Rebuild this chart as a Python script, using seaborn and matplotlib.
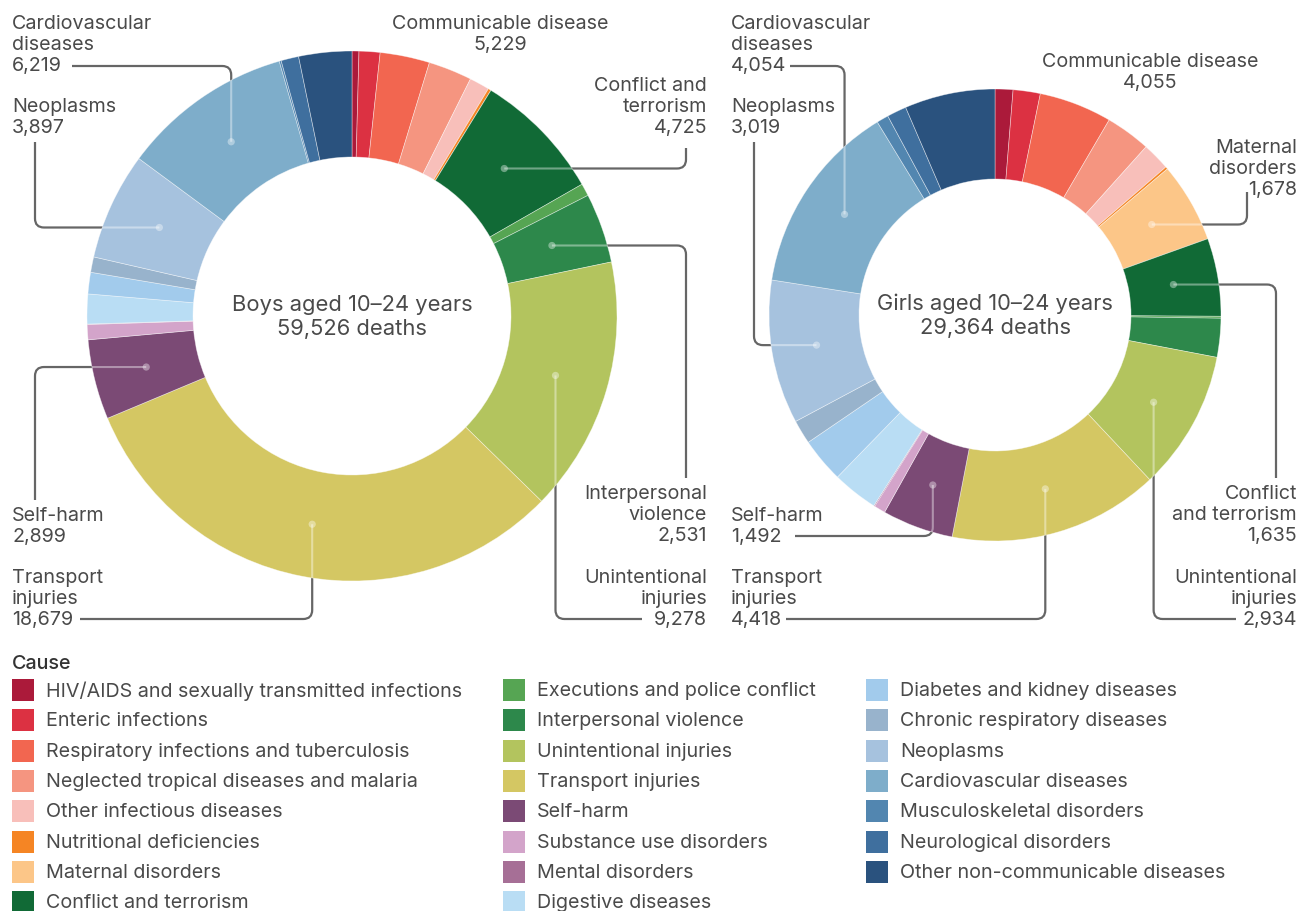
import numpy as np
import matplotlib
matplotlib.use("Agg")
import matplotlib.pyplot as plt
from matplotlib.path import Path
from matplotlib.patches import PathPatch, Rectangle, Circle
import seaborn as sns

# ---------------------------------------------------------------- data
causes = [
    "HIV/AIDS and sexually transmitted infections",
    "Enteric infections",
    "Respiratory infections and tuberculosis",
    "Neglected tropical diseases and malaria",
    "Other infectious diseases",
    "Nutritional deficiencies",
    "Maternal disorders",
    "Conflict and terrorism",
    "Executions and police conflict",
    "Interpersonal violence",
    "Unintentional injuries",
    "Transport injuries",
    "Self-harm",
    "Substance use disorders",
    "Mental disorders",
    "Digestive diseases",
    "Diabetes and kidney diseases",
    "Chronic respiratory diseases",
    "Neoplasms",
    "Cardiovascular diseases",
    "Musculoskeletal disorders",
    "Neurological disorders",
    "Other non-communicable diseases",
]

cause_colors = [
    "#ab1a3a", "#dc3142", "#f26650", "#f59580", "#f8bfba", "#f58524",
    "#fcc688", "#116a36", "#56a553", "#2d884b", "#b3c45e", "#d4c763",
    "#7b4a75", "#d3a4ca", "#a66f96", "#b9ddf4", "#a2cbec", "#98b3cc",
    "#a6c2de", "#7eadca", "#5286b0", "#3f6f9e", "#2a527e",
]

boys_deaths = [250, 760, 1800, 1580, 730, 109, 0, 4725, 450, 2531, 9278,
               18679, 2899, 550, 15, 1080, 780, 560, 3897, 6219, 70, 640, 1924]
girls_deaths = [375, 570, 1530, 945, 585, 50, 1678, 1635, 40, 815, 2934,
                4418, 1492, 240, 20, 960, 940, 505, 3019, 4054, 250, 410, 1899]

# first six causes make up the "Communicable disease" group
communicable = causes[:6]

# ---------------------------------------------------------------- style
sns.set_theme(style="white")
plt.rcParams["font.family"] = ["Inter", "DejaVu Sans"]
TEXT = "#4a4a4a"
LINE = "#666666"
FS = 14.2
palette = sns.color_palette(cause_colors)

W, H = 1301, 911
fig = plt.figure(figsize=(W / 100, H / 100), dpi=100)
ax = fig.add_axes([0, 0, 1, 1])


def rounded_path(pts, rad=9):
    verts = [pts[0]]
    codes = [Path.MOVETO]
    for i in range(1, len(pts) - 1):
        p0, p1, p2 = (np.array(p, float) for p in pts[i - 1:i + 2])
        d1 = (p1 - p0) / np.linalg.norm(p1 - p0)
        d2 = (p2 - p1) / np.linalg.norm(p2 - p1)
        verts += [p1 - d1 * rad, p1, p1 + d2 * rad]
        codes += [Path.LINETO, Path.CURVE3, Path.CURVE3]
    verts.append(pts[-1])
    codes.append(Path.LINETO)
    return Path(verts, codes)


def donut(values, center, radius, width, title, labels, group_label):
    # y axis runs downward, so counterclock in data space reads clockwise
    wedges, _ = ax.pie(values, colors=palette, center=center, radius=radius,
                       startangle=-90, counterclock=True,
                       wedgeprops=dict(width=width, edgecolor=(1, 1, 1, 0.5),
                                       linewidth=0.5, zorder=2))
    total = sum(values)
    ax.text(center[0], center[1] + 1, f"{title}\n{total:,} deaths", ha="center",
            va="center", fontsize=15.8, color=TEXT, linespacing=1.25, zorder=5)

    # communicable group label (no leader)
    gx, gy = group_label
    group_total = sum(values[causes.index(c)] for c in communicable)
    ax.text(gx, gy, f"Communicable disease\n{group_total:,}", ha="center",
            va="top", fontsize=FS, color=TEXT, linespacing=1.2)

    rmid = radius - width / 2
    for cause, name, tx, ty, ha, start, first in labels:
        i = causes.index(cause)
        w = wedges[i]
        theta = np.deg2rad((w.theta1 + w.theta2) / 2)
        dot = (center[0] + rmid * np.cos(theta), center[1] + rmid * np.sin(theta))
        ax.text(tx, ty, f"{name}\n{values[i]:,}", ha=ha, va="top",
                fontsize=FS, color=TEXT, linespacing=1.2)
        if first == "h":
            elbow = (dot[0], start[1])
        else:
            elbow = (start[0], dot[1])
        path = rounded_path([start, elbow, dot])
        ax.add_patch(PathPatch(path, fill=False, ec=LINE, lw=1.6, zorder=1,
                               capstyle="butt"))
        inner = PathPatch(path, fill=False, ec=(1, 1, 1, 0.4), lw=1.5, zorder=3)
        ax.add_patch(inner)
        inner.set_clip_path(w)
        ax.add_patch(Circle(dot, 3.6, fc=(1, 1, 1, 0.38), ec="none", zorder=4))
    return wedges


boys_labels = [
    ("Cardiovascular diseases", "Cardiovascular\ndiseases", 12, 15, "left", (72, 66), "h"),
    ("Neoplasms", "Neoplasms", 12, 98, "left", (35, 142), "v"),
    ("Conflict and terrorism", "Conflict and\nterrorism", 707, 77, "right", (686, 148), "v"),
    ("Interpersonal violence", "Interpersonal\nviolence", 707, 485, "right", (686, 478), "v"),
    ("Unintentional injuries", "Unintentional\ninjuries", 707, 569, "right", (642, 619), "h"),
    ("Self-harm", "Self-harm", 12, 507, "left", (35, 500), "v"),
    ("Transport injuries", "Transport\ninjuries", 12, 569, "left", (80, 619), "h"),
]

girls_labels = [
    ("Cardiovascular diseases", "Cardiovascular\ndiseases", 731, 15, "left", (790, 66), "h"),
    ("Neoplasms", "Neoplasms", 731, 98, "left", (754, 142), "v"),
    ("Maternal disorders", "Maternal\ndisorders", 1297, 139, "right", (1247, 192), "v"),
    ("Conflict and terrorism", "Conflict\nand terrorism", 1297, 485, "right", (1276, 478), "v"),
    ("Unintentional injuries", "Unintentional\ninjuries", 1297, 569, "right", (1236, 619), "h"),
    ("Self-harm", "Self-harm", 731, 507, "left", (795, 536), "h"),
    ("Transport injuries", "Transport\ninjuries", 731, 569, "left", (786, 619), "h"),
]

donut(boys_deaths, (352, 316), 265, 106, "Boys aged 10\u201324 years",
      boys_labels, (500, 15))
donut(girls_deaths, (995, 315), 226, 90, "Girls aged 10\u201324 years",
      girls_labels, (1150, 53))

# ---------------------------------------------------------------- legend
ax.text(12, 664, "Cause", ha="left", va="center", fontsize=FS,
        fontweight="medium", color="#333333")
col_x = [12, 503, 866]
for i, (cause, col) in enumerate(zip(causes, palette)):
    c, r = divmod(i, 8)
    x = col_x[c]
    y = 690 + r * 30.3
    ax.add_patch(Rectangle((x, y - 11), 22, 22, fc=col, ec="none"))
    ax.text(x + 34, y + 1, cause, ha="left", va="center", fontsize=FS, color=TEXT)

ax.set_xlim(0, W)
ax.set_ylim(H, 0)
ax.set_aspect("equal")
ax.axis("off")
fig.savefig("out.png", dpi=100, facecolor="white")
